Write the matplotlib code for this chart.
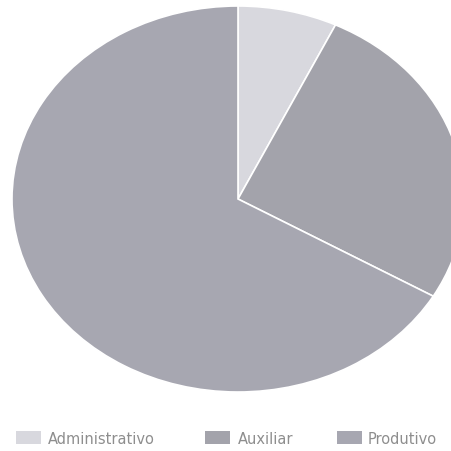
import matplotlib.pyplot as plt
from matplotlib.patches import Rectangle

labels = ["Administrativo", "Auxiliar", "Produtivo"]
values = [7.1, 26.3, 66.6]
colors = ["#d8d8de", "#a3a3ab", "#a7a7b1"]

W = H = 452
fig = plt.figure(figsize=(4.52, 4.52), dpi=100)
# pie looks stretched (wider than tall) and runs off the right edge
ax = fig.add_axes([12 / W, (H - 393) / H, 452 / W, 386 / H])
ax.pie(values, colors=colors, startangle=90, counterclock=False,
       wedgeprops=dict(edgecolor="white", linewidth=1.2))
ax.set_aspect("auto")
ax.set_xlim(-1, 1)
ax.set_ylim(-1, 1)
ax.axis("off")

# legend row at the bottom, items placed by hand
box_x = [16, 205, 337]
text_x = [48, 238, 368]
for lab, c, bx, tx in zip(labels, colors, box_x, text_x):
    fig.patches.append(Rectangle((bx / W, 1 - 445 / H), 25 / W, 13 / H,
                                 facecolor=c, edgecolor="none",
                                 transform=fig.transFigure))
    fig.text(tx / W, 1 - 440 / H, lab, fontsize=10.5, color="#8e8e8e",
             va="center", ha="left")

fig.savefig("out.png", dpi=100)
